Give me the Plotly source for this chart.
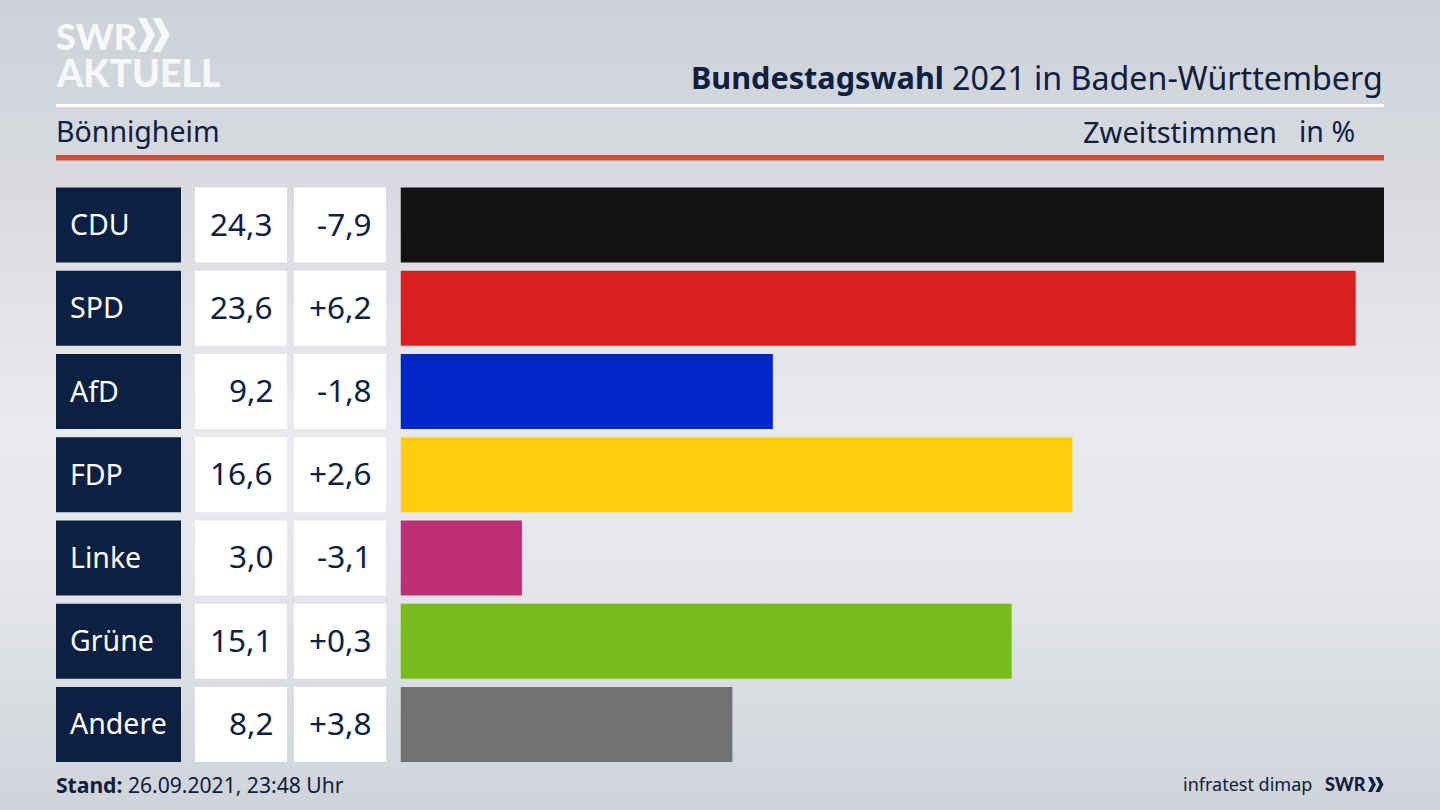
import plotly.graph_objects as go

parties = ["CDU", "SPD", "AfD", "FDP", "Linke", "Grüne", "Andere"]
shares = [24.3, 23.6, 9.2, 16.6, 3.0, 15.1, 8.2]
changes = ["-7,9", "+6,2", "-1,8", "+2,6", "-3,1", "+0,3", "+3,8"]
share_labels = ["24,3", "23,6", "9,2", "16,6", "3,0", "15,1", "8,2"]
bar_colors = ["#121212", "#d9201f", "#0225c8", "#ffcd0a", "#bd3075", "#78bc1b", "#717274"]
full_cell = [1, 1, 1, 1, 1, 1, 1]

W, H = 1440, 810
NAVY = "#0c2041"
LOGO = "#f6f7f8"
FONT = "Noto Sans"
HEAVY = "Lato"


def fx(p):
    return p / W


def fy(p):
    return 1 - p / H


def dom(a, b):
    return [fx(a), fx(b)]


fig = go.Figure()
fig.add_trace(go.Bar(x=shares, y=parties, orientation="h", marker=dict(color=bar_colors, line_width=0),
                     xaxis="x", yaxis="y", hoverinfo="skip"))
fig.add_trace(go.Bar(x=full_cell, y=parties, orientation="h", marker=dict(color=NAVY, line_width=0),
                     xaxis="x2", yaxis="y", hoverinfo="skip"))
fig.add_trace(go.Bar(x=full_cell, y=parties, orientation="h", marker=dict(color="#ffffff", line_width=0),
                     xaxis="x3", yaxis="y", hoverinfo="skip"))
fig.add_trace(go.Bar(x=full_cell, y=parties, orientation="h", marker=dict(color="#ffffff", line_width=0),
                     xaxis="x4", yaxis="y", hoverinfo="skip"))

ann = []
for p, s, c in zip(parties, share_labels, changes):
    ann.append(dict(x=0, y=p, xref="x2", yref="y", text=p, xanchor="left", xshift=12, yshift=1, showarrow=False,
                    font=dict(family=FONT, size=28.5, color="#ffffff")))
    ann.append(dict(x=1, y=p, xref="x3", yref="y", text=s, xanchor="right", xshift=-12.5, yshift=2, showarrow=False,
                    font=dict(family=FONT, size=31.5, color=NAVY)))
    ann.append(dict(x=1, y=p, xref="x4", yref="y", text=c, xanchor="right", xshift=-12.5, yshift=2, showarrow=False,
                    font=dict(family=FONT, size=31.5, color=NAVY)))


def text(x, y, t, size, anchor="left", color=NAVY, family=FONT, weight=None):
    font = dict(family=family, size=size, color=color)
    if weight:
        font["weight"] = weight
    ann.append(dict(x=fx(x), y=fy(y), xref="paper", yref="paper", text=t, xanchor=anchor, yanchor="middle",
                    showarrow=False, font=font))


text(946, 77.5, "<b>Bundestagswahl</b>", 30.6, "right")
text(1385, 77, "2021 in Baden-Württemberg", 32.2, "right")
text(54, 131, "Bönnigheim", 28.5)
text(1279, 131, "Zweitstimmen", 29, "right")
text(1357, 131, "in %", 28.5, "right")
text(54, 784, "<b>Stand:</b> 26.09.2021, 23:48 Uhr", 21.1)
text(1314, 784, "infratest dimap", 18, "right")
text(1323, 784, "SWR", 18, "left", NAVY, HEAVY, 900)
text(54, 35.5, "SWR", 36, "left", LOGO, HEAVY, 900)
text(54, 72, "AKTUELL", 37.5, "left", LOGO, HEAVY, 900)


def chevrons(x0, y0, h, w, t, gap, color):
    out = []
    for k in range(2):
        a = x0 + k * gap
        path = (f"M {fx(a)} {fy(y0)} L {fx(a + t)} {fy(y0)} L {fx(a + t + w)} {fy(y0 + h / 2)} "
                f"L {fx(a + t)} {fy(y0 + h)} L {fx(a)} {fy(y0 + h)} L {fx(a + w)} {fy(y0 + h / 2)} Z")
        out.append(dict(type="path", path=path, xref="paper", yref="paper", fillcolor=color, line_width=0))
    return out


shapes = [
    dict(type="rect", xref="paper", yref="paper", x0=fx(56), x1=fx(1384), y0=fy(104), y1=fy(107),
         fillcolor="#ffffff", line_width=0),
    dict(type="rect", xref="paper", yref="paper", x0=fx(56), x1=fx(1384), y0=fy(155), y1=fy(160.5),
         fillcolor="#cb4f3c", line_width=0),
] + chevrons(138, 18, 34, 9, 8, 14.7, LOGO) + chevrons(1368, 777, 15, 4, 4, 7.5, NAVY)

hidden = dict(visible=False, fixedrange=True)
fig.update_layout(
    width=W, height=H, margin=dict(l=0, r=0, t=0, b=0), autosize=False,
    paper_bgcolor="rgba(0,0,0,0)", plot_bgcolor="rgba(0,0,0,0)",
    showlegend=False, barmode="overlay", bargap=0.0986,
    annotations=ann, shapes=shapes,
    xaxis=dict(domain=dom(400.5, 1384), range=[0, 24.3], **hidden),
    xaxis2=dict(domain=dom(56, 181), range=[0, 1], **hidden),
    xaxis3=dict(domain=dom(195, 287), range=[0, 1], **hidden),
    xaxis4=dict(domain=dom(294, 386), range=[0, 1], **hidden),
    yaxis=dict(domain=[fy(766.1), fy(183.4)], autorange=False, range=[6.5, -0.5], type="category",
               categoryorder="array", categoryarray=parties, **hidden),
)

css = ("document.documentElement.style.background='#d2d5db';"
       "document.body.style.margin='0';document.body.style.overflow='hidden';"
       "document.body.style.height='810px';"
       "document.body.style.background='linear-gradient(180deg, #cdd1d8 0%, #d8dae0 22%, #e9eaee 52%, #e6e8ec 68%, #d0d3da 100%)';")
fig.write_html("out.html", post_script=css, config=dict(displayModeBar=False))
